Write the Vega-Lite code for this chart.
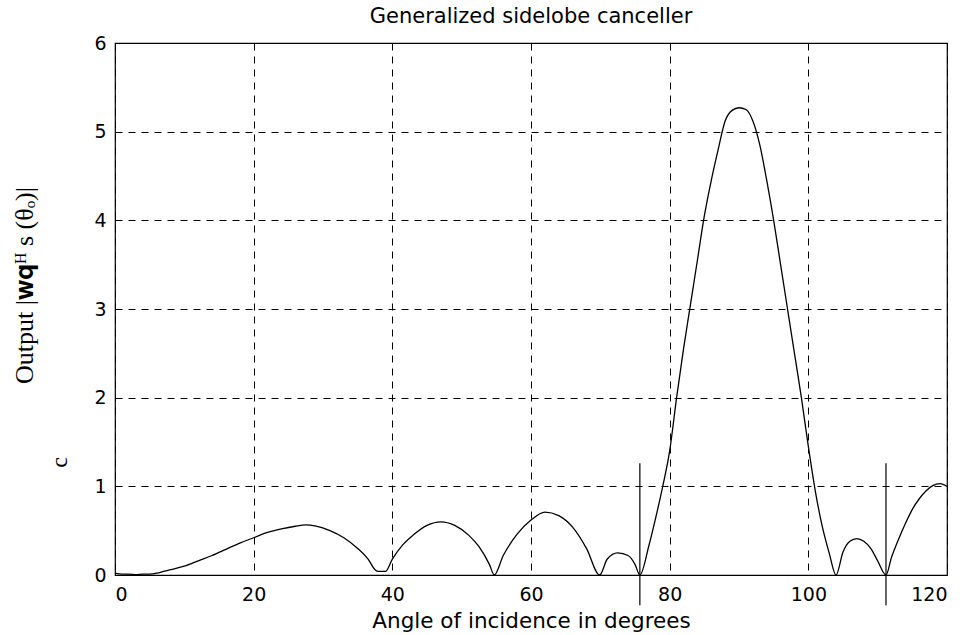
{
  "$schema": "https://vega.github.io/schema/vega-lite/v6.json",
  "width": 832,
  "height": 532,
  "autosize": "none",
  "padding": {"left": 115, "top": 43, "right": 31, "bottom": 60},
  "background": "white",
  "title": {"text": "Generalized sidelobe canceller", "font": "DejaVu Sans", "fontSize": 21, "fontWeight": "normal", "color": "black", "offset": 7},
  "datasets": {
    "curve": [
      {"angle": 0, "output": 0.02}, {"angle": 1, "output": 0.01}, {"angle": 2, "output": 0.01}, {"angle": 3, "output": 0.005},
      {"angle": 4, "output": 0.01}, {"angle": 5, "output": 0.01}, {"angle": 6, "output": 0.02}, {"angle": 7, "output": 0.04},
      {"angle": 8, "output": 0.06}, {"angle": 10, "output": 0.1}, {"angle": 12, "output": 0.16}, {"angle": 14, "output": 0.22},
      {"angle": 16, "output": 0.29}, {"angle": 18, "output": 0.36}, {"angle": 20, "output": 0.42}, {"angle": 22, "output": 0.48},
      {"angle": 24, "output": 0.52}, {"angle": 26, "output": 0.55}, {"angle": 27.5, "output": 0.565}, {"angle": 29, "output": 0.55},
      {"angle": 31, "output": 0.5}, {"angle": 33, "output": 0.42}, {"angle": 35, "output": 0.3}, {"angle": 36.5, "output": 0.18},
      {"angle": 37.5, "output": 0.06}, {"angle": 38, "output": 0.04}, {"angle": 39, "output": 0.04}, {"angle": 40, "output": 0.18},
      {"angle": 41.5, "output": 0.34}, {"angle": 43, "output": 0.45}, {"angle": 45, "output": 0.56}, {"angle": 47, "output": 0.6},
      {"angle": 49, "output": 0.56}, {"angle": 51, "output": 0.45}, {"angle": 52.5, "output": 0.32}, {"angle": 54, "output": 0.12},
      {"angle": 54.7, "output": 0.0}, {"angle": 56, "output": 0.22}, {"angle": 58, "output": 0.46}, {"angle": 60, "output": 0.62},
      {"angle": 62, "output": 0.71}, {"angle": 64, "output": 0.67}, {"angle": 66, "output": 0.54}, {"angle": 68, "output": 0.3},
      {"angle": 69.9, "output": 0.0}, {"angle": 71, "output": 0.18}, {"angle": 72.5, "output": 0.25}, {"angle": 74, "output": 0.22},
      {"angle": 75, "output": 0.12}, {"angle": 75.7, "output": 0.0}, {"angle": 77, "output": 0.33}, {"angle": 78, "output": 0.65},
      {"angle": 79, "output": 1.0}, {"angle": 80, "output": 1.4}, {"angle": 81, "output": 2.0}, {"angle": 82, "output": 2.55},
      {"angle": 83, "output": 3.05}, {"angle": 84, "output": 3.55}, {"angle": 85, "output": 4.05}, {"angle": 86, "output": 4.45},
      {"angle": 87, "output": 4.8}, {"angle": 88, "output": 5.12}, {"angle": 89, "output": 5.24}, {"angle": 90, "output": 5.27},
      {"angle": 91, "output": 5.25}, {"angle": 92, "output": 5.12}, {"angle": 93, "output": 4.85}, {"angle": 94, "output": 4.45},
      {"angle": 95, "output": 4.0}, {"angle": 96, "output": 3.5}, {"angle": 97, "output": 3.0}, {"angle": 98, "output": 2.5},
      {"angle": 99, "output": 2.0}, {"angle": 100, "output": 1.45}, {"angle": 101, "output": 0.95}, {"angle": 102, "output": 0.55},
      {"angle": 103, "output": 0.25}, {"angle": 104, "output": 0.0}, {"angle": 105, "output": 0.26}, {"angle": 106, "output": 0.38},
      {"angle": 107, "output": 0.41}, {"angle": 108, "output": 0.38}, {"angle": 109, "output": 0.3}, {"angle": 110, "output": 0.16},
      {"angle": 111.2, "output": 0.0}, {"angle": 112, "output": 0.2}, {"angle": 113, "output": 0.4}, {"angle": 114, "output": 0.58},
      {"angle": 115, "output": 0.74}, {"angle": 116, "output": 0.86}, {"angle": 117, "output": 0.95}, {"angle": 118, "output": 1.01},
      {"angle": 119, "output": 1.03}, {"angle": 120, "output": 1.0}
    ],
    "nulls": [
      {"angle": 75.7, "low": -0.34, "high": 1.26},
      {"angle": 111.2, "low": -0.34, "high": 1.26}
    ],
    "stray": [
      {"angle": -7.97, "output": 1.27, "label": "c"}
    ]
  },
  "layer": [
    {
      "data": {"name": "curve"},
      "mark": {"type": "line", "color": "black", "strokeWidth": 1.3, "interpolate": "monotone"},
      "encoding": {
        "x": {"field": "angle", "type": "quantitative", "scale": {"domain": [0, 120], "nice": false},
              "axis": {"values": [0, 20, 40, 60, 80, 100, 120], "format": "d", "title": "Angle of incidence in degrees"}},
        "y": {"field": "output", "type": "quantitative", "scale": {"domain": [0, 6], "nice": false},
              "axis": {"values": [0, 1, 2, 3, 4, 5, 6], "format": "d", "title": "Output  |𝐰𝐪ᴴ s (θₒ)|", "titleFont": "Liberation Serif", "titleFontSize": 26, "titleX": -83, "titleY": 242, "titleBaseline": "alphabetic", "titleAngle": 270}}
      }
    },
    {
      "data": {"name": "nulls"},
      "mark": {"type": "rule", "color": "black", "strokeWidth": 1.2, "clip": false},
      "encoding": {
        "x": {"field": "angle", "type": "quantitative"},
        "y": {"field": "low", "type": "quantitative"},
        "y2": {"field": "high"}
      }
    },
    {
      "data": {"name": "stray"},
      "mark": {"type": "text", "font": "Liberation Serif", "fontSize": 24, "align": "center", "baseline": "middle", "color": "black", "clip": false},
      "encoding": {
        "x": {"field": "angle", "type": "quantitative"},
        "y": {"field": "output", "type": "quantitative"},
        "angle": {"value": 270},
        "text": {"field": "label"}
      }
    }
  ],
  "config": {
    "view": {"stroke": "black", "strokeWidth": 1.2},
    "axis": {
      "grid": true, "gridColor": "black", "gridOpacity": 1, "gridDash": [7, 6], "gridWidth": 1,
      "ticks": false, "domain": false,
      "labelFont": "DejaVu Sans", "labelFontSize": 19, "labelColor": "black",
      "titleFont": "DejaVu Sans", "titleFontSize": 21.5, "titleFontWeight": "normal", "titleColor": "black"
    },
    "axisX": {"labelPadding": 10, "titlePadding": 6},
    "axisY": {"labelPadding": 9}
  }
}
